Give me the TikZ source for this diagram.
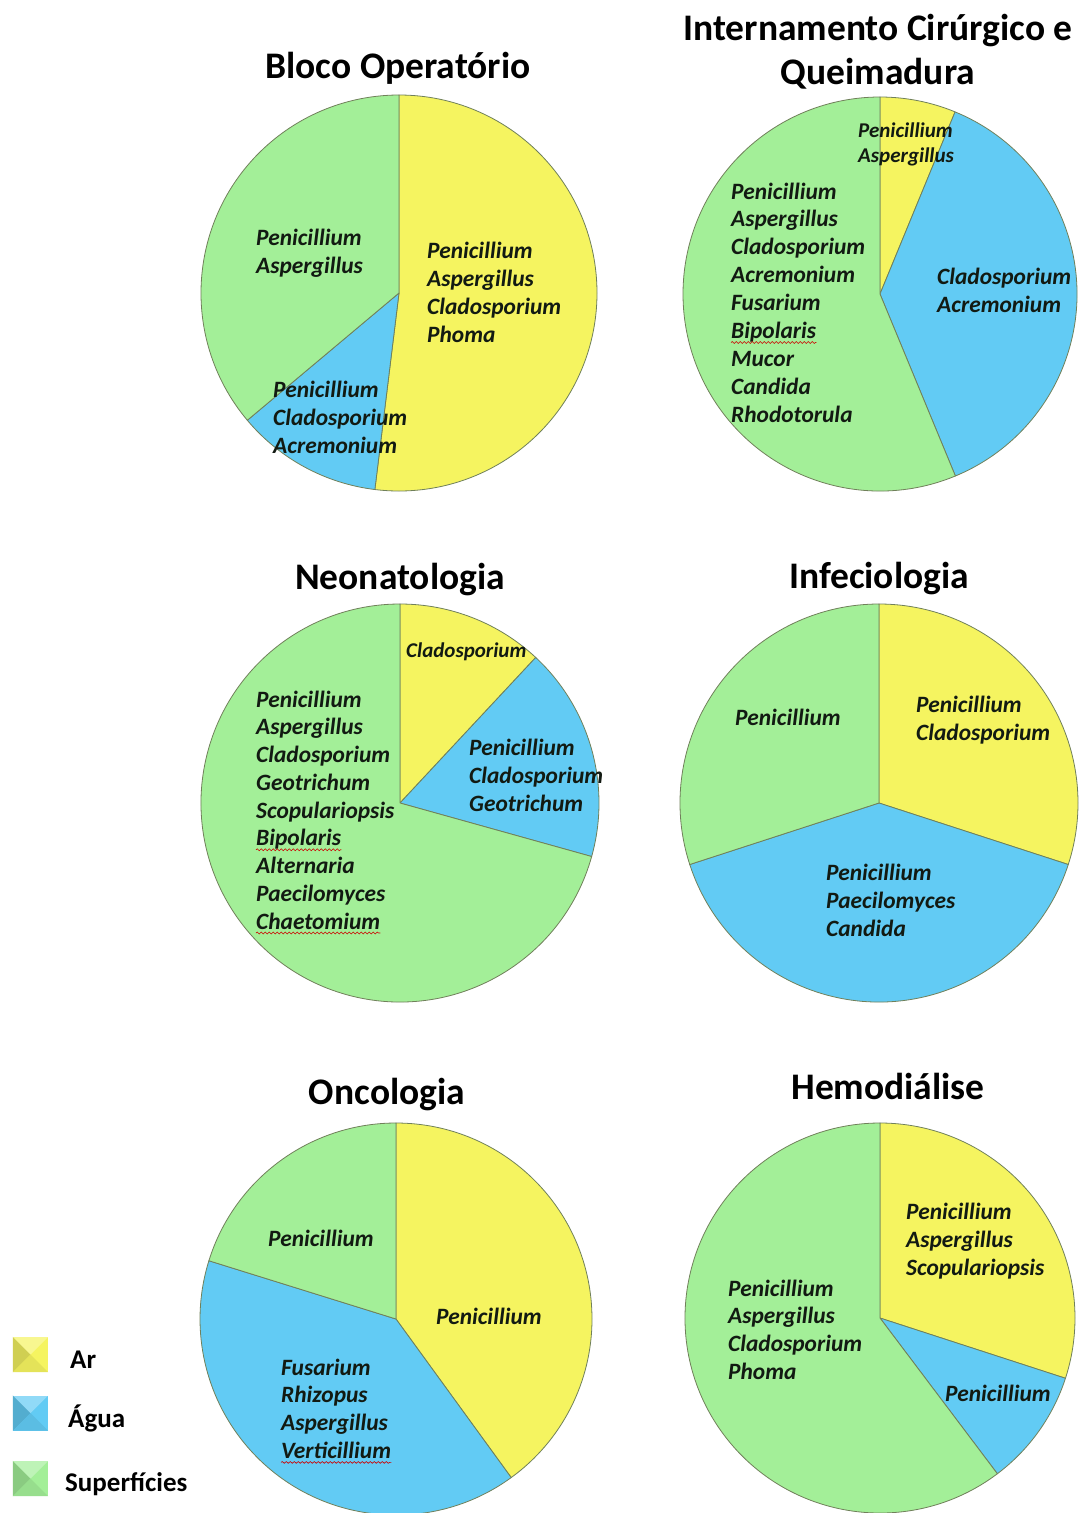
\documentclass[tikz,border=0pt]{standalone}
\usepackage{fontspec}
\setmainfont{Carlito}
\usetikzlibrary{decorations.pathmorphing}
\definecolor{ye}{HTML}{F5F460}
\definecolor{bl}{HTML}{62CBF4}
\definecolor{gr}{HTML}{A3EF98}
\definecolor{edgec}{HTML}{70805A}
\definecolor{ink}{HTML}{121A12}
\newcommand\sect[6]{\path[slice,fill=#6] (#1,#2) -- ++({-(#4)}:#3) arc[start angle={-(#4)}, end angle={-(#5)}, radius=#3] -- cycle;}
\newcommand\labs[6]{\foreach \t [count=\i from 0] in {#6} {\node[#1] (#2\i) at (#3,{#4+\i*#5}) {\t};}}
\newcommand\legsquare[3]{%
  \node[legsq, fill=#2] (#1) at #3 {};
  \fill[#2!85!black] (#1.north west) -- (#1.center) -- (#1.south west) -- cycle;
  \fill[white, opacity=0.3] (#1.north west) -- (#1.center) -- (#1.north east) -- cycle;
  \fill[#2!93!black] (#1.south west) -- (#1.center) -- (#1.south east) -- cycle;}
\begin{document}
\begin{tikzpicture}[x=1pt,y=-1pt,
  title/.style={anchor=base, inner sep=0, font=\fontsize{37.5}{40}\selectfont\bfseries, text=black},
  lab/.style={anchor=base west, inner sep=0, font=\fontsize{23.4}{26}\selectfont\bfseries\itshape, text=ink},
  slab/.style={lab, font=\fontsize{21}{24}\selectfont\bfseries\itshape},
  legtxt/.style={anchor=base west, inner sep=0, font=\fontsize{27}{30}\selectfont\bfseries, text=black},
  legsq/.style={rectangle, minimum size=35pt, inner sep=0, draw=none},
  slice/.style={draw=edgec, line width=0.8pt, line join=round},
  squig/.style={draw=red!80!black, line width=0.6pt, decorate, decoration={snake, amplitude=0.9pt, segment length=4pt}}]
\useasboundingbox[fill=white] (0,0) rectangle (1079,1513);

% ---- Bloco Operatorio
\node[title] (t1) at (398,78) {Bloco Operatório};
\sect{399}{293}{198}{90}{-97}{ye}
\sect{399}{293}{198}{-97}{-140}{bl}
\sect{399}{293}{198}{-140}{-270}{gr}
\labs{lab}{by}{427}{258}{28}{Penicillium,Aspergillus,Cladosporium,Phoma}
\labs{lab}{bg}{256}{245}{28}{Penicillium,Aspergillus}
\labs{lab}{bb}{273}{397}{28}{Penicillium,Cladosporium,Acremonium}

% ---- Internamento
\node[title] (t2a) at (878,40) {Internamento Cirúrgico e};
\node[title] (t2b) at (878,84) {Queimadura};
\sect{880}{294}{197}{90}{67.6}{ye}
\sect{880}{294}{197}{67.6}{-67.5}{bl}
\sect{880}{294}{197}{-67.5}{-270}{gr}
\labs{slab}{iy}{858}{137}{25}{Penicillium,Aspergillus}
\labs{lab}{ig}{731}{199}{27.9}{Penicillium,Aspergillus,Cladosporium,Acremonium,Fusarium,Bipolaris,Mucor,Candida,Rhodotorula}
\labs{lab}{ib}{937}{284}{28}{Cladosporium,Acremonium}
\draw[squig] ([yshift=-4pt]ig5.base west) -- ([yshift=-4pt]ig5.base east);

% ---- Neonatologia
\node[title] (t3) at (400,589) {Neonatologia};
\sect{400}{803}{199}{90}{47}{ye}
\sect{400}{803}{199}{47}{-15.6}{bl}
\sect{400}{803}{199}{-15.6}{-270}{gr}
\labs{slab}{ny}{406}{657}{25}{Cladosporium}
\labs{lab}{ng}{256}{707}{27.75}{Penicillium,Aspergillus,Cladosporium,Geotrichum,Scopulariopsis,Bipolaris,Alternaria,Paecilomyces,Chaetomium}
\labs{lab}{nb}{469}{755}{28}{Penicillium,Cladosporium,Geotrichum}
\draw[squig] ([yshift=-4pt]ng5.base west) -- ([yshift=-4pt]ng5.base east);
\draw[squig] ([yshift=-4pt]ng8.base west) -- ([yshift=-4pt]ng8.base east);

% ---- Infeciologia
\node[title] (t4) at (879,588) {Infeciologia};
\sect{879}{803}{199}{90}{-18}{ye}
\sect{879}{803}{199}{-18}{-162}{bl}
\sect{879}{803}{199}{-162}{-270}{gr}
\labs{lab}{fg}{735}{725}{28}{Penicillium}
\labs{lab}{fy}{916}{712}{28}{Penicillium,Cladosporium}
\labs{lab}{fb}{826}{880}{28}{Penicillium,Paecilomyces,Candida}

% ---- Oncologia
\node[title] (t5) at (387,1104) {Oncologia};
\sect{396}{1319}{196}{90}{-54}{ye}
\sect{396}{1319}{196}{-54}{-197.3}{bl}
\sect{396}{1319}{196}{-197.3}{-270}{gr}
\labs{lab}{og}{268}{1246}{28}{Penicillium}
\labs{lab}{oy}{436}{1324}{28}{Penicillium}
\labs{lab}{ob}{281}{1375}{27.8}{Fusarium,Rhizopus,Aspergillus,Verticillium}
\draw[squig] ([yshift=-4pt]ob3.base west) -- ([yshift=-4pt]ob3.base east);

% ---- Hemodialise
\node[title] (t6) at (888,1099) {Hemodiálise};
\sect{880}{1318}{195}{90}{-18}{ye}
\sect{880}{1318}{195}{-18}{-53}{bl}
\sect{880}{1318}{195}{-53}{-270}{gr}
\labs{lab}{hy}{906}{1219}{28}{Penicillium,Aspergillus,Scopulariopsis}
\labs{lab}{hg}{728}{1296}{27.8}{Penicillium,Aspergillus,Cladosporium,Phoma}
\labs{lab}{hb}{945}{1401}{28}{Penicillium}

% ---- Legend
\legsquare{k1}{ye}{(30.5,1354.5)}
\legsquare{k2}{bl}{(30.5,1413)}
\legsquare{k3}{gr}{(30.5,1478.5)}
\node[legtxt] (l1) at (70,1368) {Ar};
\node[legtxt] (l2) at (68,1427) {Água};
\node[legtxt] (l3) at (65,1491) {Superfícies};
\end{tikzpicture}
\end{document}
